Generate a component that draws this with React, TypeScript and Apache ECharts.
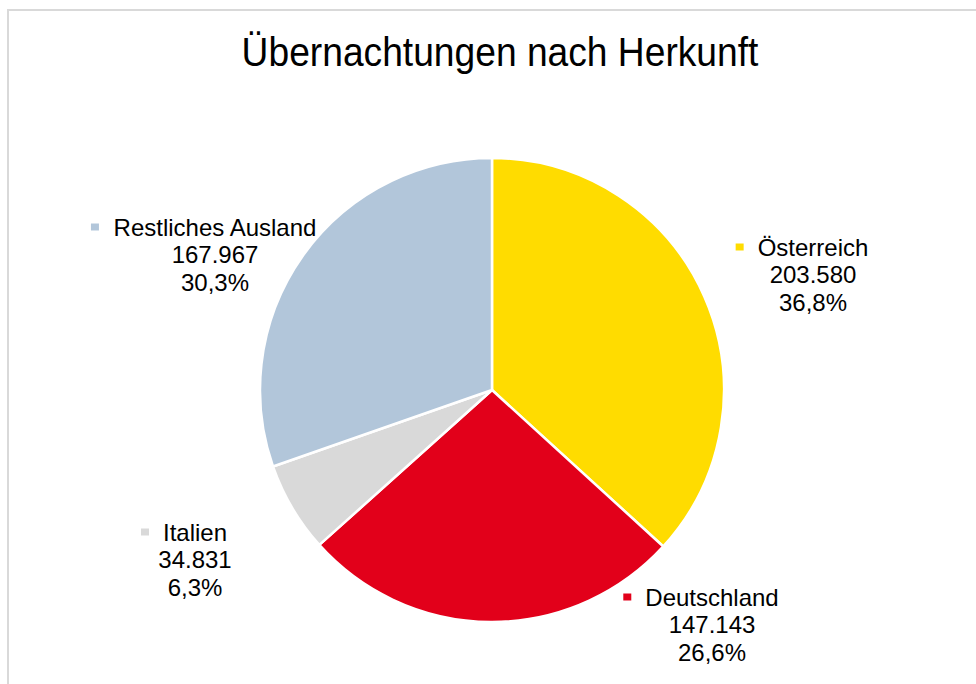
import React, { useEffect, useRef } from "react";
import * as echarts from "echarts";

const categories = ["Österreich", "Deutschland", "Italien", "Restliches Ausland"];
const values = [203580, 147143, 34831, 167967];
const colors = ["#FFDC00", "#E2001A", "#D9D9D9", "#B2C6DA"];
const titleText = "Übernachtungen nach Herkunft";

// label anchor positions (layout only)
const labelPositions: [number, number][] = [
  [813, 274.5],
  [712, 624.5],
  [195, 559.5],
  [215, 254.5],
];

const fmtNum = (n: number) => String(n).replace(/\B(?=(\d{3})+(?!\d))/g, ".");

export default function App() {
  const ref = useRef<HTMLDivElement>(null);
  useEffect(() => {
    if (!ref.current) return;
    const chart = echarts.init(ref.current, undefined, { renderer: "svg" });
    const total = values.reduce((a, b) => a + b, 0);
    const font = "'Liberation Sans', Arial, sans-serif";
    const rich: Record<string, any> = {
      gap: { width: 14, height: 7 },
      pad: { width: 22, height: 7 },
      name: { fontSize: 24, lineHeight: 27.5, color: "#000", fontFamily: font },
      v: { fontSize: 24, lineHeight: 27.5, color: "#000", fontFamily: font },
    };
    colors.forEach((c, i) => {
      rich["sq" + i] = { width: 8, height: 7, backgroundColor: c };
    });
    chart.setOption({
      animation: false,
      backgroundColor: "#fff",
      graphic: [
        {
          type: "rect",
          shape: { x: 8, y: 10, width: 1200, height: 1000 },
          style: { fill: "none", stroke: "#d9d9d9", lineWidth: 2 },
          silent: true,
        },
        {
          type: "text",
          x: 500,
          y: 52,
          scaleX: 0.93,
          style: {
            text: titleText,
            fontSize: 40,
            fontFamily: font,
            fill: "#000",
            textAlign: "center",
            textVerticalAlign: "middle",
          },
        },
      ],
      series: [
        {
          type: "pie",
          center: [492, 390],
          radius: 232,
          startAngle: 90,
          clockwise: true,
          avoidLabelOverlap: false,
          itemStyle: { borderColor: "#fff", borderWidth: 2.5 },
          label: {
            show: true,
            position: "outside",
            align: "center",
            formatter: (p: any) => {
              const pct = ((p.value / total) * 100).toFixed(1).replace(".", ",") + "%";
              return `{sq${p.dataIndex}|}{gap|}{name|${p.name}}{pad|}\n{v|${fmtNum(p.value)}}\n{v|${pct}}`;
            },
            rich,
          },
          labelLine: { show: false },
          labelLayout: (params: any) => {
            const pos = labelPositions[params.dataIndex];
            return { x: pos[0], y: pos[1], align: "center", verticalAlign: "middle" };
          },
          data: categories.map((name, i) => ({
            name,
            value: values[i],
            itemStyle: { color: colors[i] },
          })),
        },
      ],
    });
    return () => chart.dispose();
  }, []);
  return (
    <div
      ref={ref}
      style={{ position: "fixed", left: 0, top: 0, width: 976, height: 684 }}
    />
  );
}
